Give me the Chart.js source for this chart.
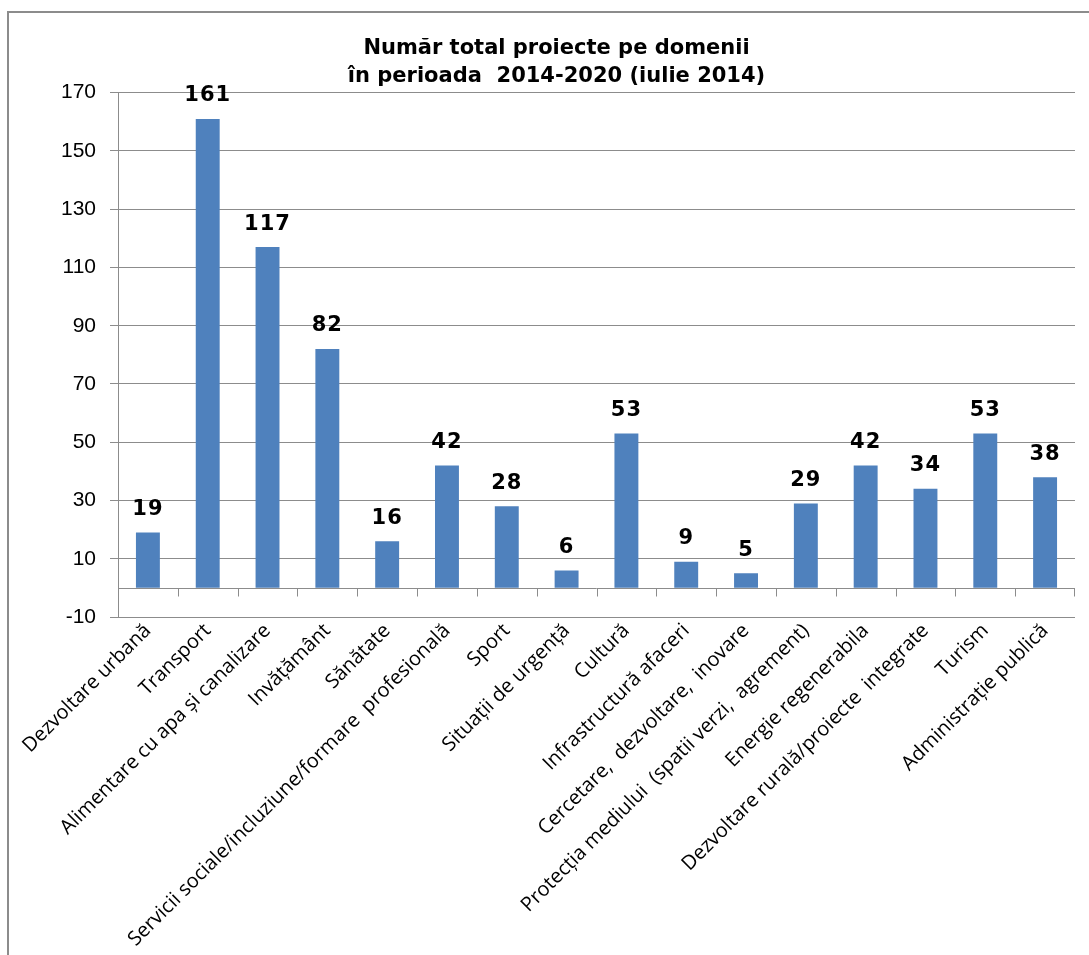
<!DOCTYPE html>
<html>
<head>
<meta charset="utf-8">
<script src="https://cdn.jsdelivr.net/npm/chart.js@4"></script>
<style>
  body { margin: 0; background: #fff; overflow: hidden; }
  #frame { position: absolute; left: 7px; top: 11px; width: 1200px; height: 1100px; border: 2px solid #8c8c8c; }
  #chart { position: absolute; left: 0; top: 0; }
</style>
</head>
<body>
<div id="frame"></div>
<canvas id="chart" width="1089" height="955"></canvas>
<script>
const categories = [
  "Dezvoltare urbană", "Transport", "Alimentare cu apa și canalizare", "Invățământ",
  "Sănătate", "Servicii sociale/incluziune/formare  profesională", "Sport",
  "Situații de urgență", "Cultură", "Infrastructură afaceri",
  "Cercetare,  dezvoltare,  inovare", "Protecția mediului  (spatii verzi,  agrement)",
  "Energie regenerabila", "Dezvoltare rurală/proiecte  integrate", "Turism",
  "Administrație publică"
];
const projects = [19, 161, 117, 82, 16, 42, 28, 6, 53, 9, 5, 29, 42, 34, 53, 38];
const yTicks = [-10, 10, 30, 50, 70, 90, 110, 130, 150, 170];

const gridColor = '#8c8c8c';

// zero line with tick marks between categories, labels above bars
const extras = {
  id: 'extras',
  beforeDatasetsDraw(chart) {
    const { ctx, scales: { x, y } } = chart;
    const y0 = Math.round(y.getPixelForValue(0)) + 0.5;
    ctx.save();
    ctx.strokeStyle = gridColor;
    ctx.lineWidth = 1;
    ctx.beginPath();
    ctx.moveTo(x.left, y0);
    ctx.lineTo(x.right, y0);
    for (let i = 0; i < categories.length; i++) {
      const px = i + 1 < categories.length
        ? Math.round((x.getPixelForValue(i) + x.getPixelForValue(i + 1)) / 2) + 0.5
        : x.right - 0.5;
      ctx.moveTo(px, y0);
      ctx.lineTo(px, y0 + 8);
    }
    ctx.stroke();
    ctx.restore();
  },
  afterDatasetsDraw(chart) {
    const { ctx } = chart;
    const meta = chart.getDatasetMeta(0);
    ctx.save();
    ctx.fillStyle = '#000';
    ctx.font = 'bold 21px "DejaVu Sans"';
    ctx.letterSpacing = '1px';
    ctx.textAlign = 'center';
    ctx.textBaseline = 'middle';
    meta.data.forEach((bar, i) => {
      ctx.fillText(String(projects[i]), bar.x, bar.y - 23);
    });
    ctx.restore();
  }
};

new Chart(document.getElementById('chart'), {
  type: 'bar',
  data: {
    labels: categories,
    datasets: [{
      data: projects,
      backgroundColor: '#4f81bd',
      barPercentage: 0.4,
      categoryPercentage: 1
    }]
  },
  options: {
    responsive: false,
    animation: false,
    layout: { padding: { left: 24, right: 0, top: 0, bottom: 0 } },
    plugins: {
      legend: { display: false },
      tooltip: { enabled: false },
      title: {
        display: true,
        text: ['Număr total proiecte pe domenii', 'în perioada  2014-2020 (iulie 2014)'],
        color: '#000',
        font: { family: '"DejaVu Sans"', size: 21, weight: 'bold', lineHeight: 1.35 },
        padding: { top: 34, bottom: 2 }
      }
    },
    scales: {
      x: {
        grid: { display: false },
        border: { display: false },
        ticks: {
          autoSkip: false,
          minRotation: 45,
          maxRotation: 45,
          padding: -6,
          color: '#000',
          font: { family: '"Open Sans"', size: 20 }
        },
        afterFit(scale) { scale.height = 338; }
      },
      y: {
        min: -10,
        max: 170,
        afterBuildTicks(scale) { scale.ticks = yTicks.map(v => ({ value: v })); },
        grid: { color: gridColor, tickLength: 8 },
        border: { color: gridColor },
        ticks: {
          padding: 14,
          color: '#000',
          font: { family: '"Liberation Sans"', size: 21 }
        },
        afterFit(scale) { scale.width = 94; }
      },
      // empty right-hand spacer so the title centres like the original
      spacer: {
        type: 'linear',
        position: 'right',
        grid: { display: false },
        border: { display: false },
        ticks: { display: false },
        afterFit(scale) { scale.width = 14; }
      }
    }
  },
  plugins: [extras]
});
</script>
</body>
</html>
